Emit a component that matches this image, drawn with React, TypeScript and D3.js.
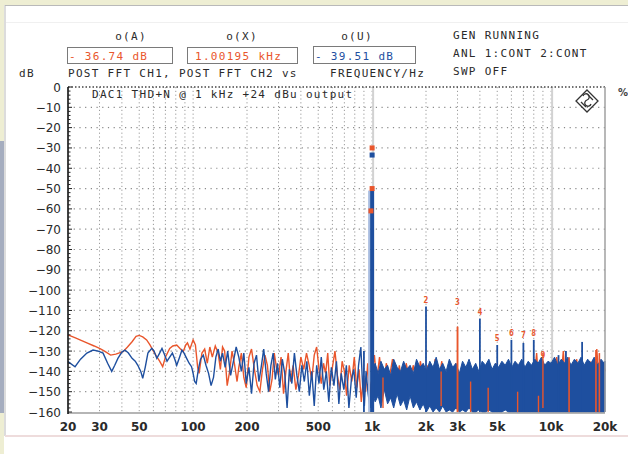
import React from "react";
import * as d3 from "d3";

const W = 628;
const H = 454;
const plot = { x0: 68, x1: 605, y0: 87, y1: 412 };

const RED = "#e9562c";
const BLUE = "#1e4f9f";
const INK = "#2a2a2a";
const MONO = "'DejaVu Sans Mono', monospace";
const SANS = "'DejaVu Sans', sans-serif";

// axis ticks
const dbTicks = [0, -10, -20, -30, -40, -50, -60, -70, -80, -90, -100, -110, -120, -130, -140, -150, -160];
const freqLabels: [number, string][] = [
  [20, "20"], [30, "30"], [50, "50"], [100, "100"], [200, "200"], [500, "500"],
  [1000, "1k"], [2000, "2k"], [3000, "3k"], [5000, "5k"], [10000, "10k"], [20000, "20k"],
];
const gridFreqs = [30, 40, 50, 60, 70, 80, 90, 100, 200, 300, 400, 500, 600, 700, 800, 900,
  1000, 2000, 3000, 4000, 5000, 6000, 7000, 8000, 9000, 10000];

// CH1 (red) noise floor below 1 kHz, [Hz, dB]
const redLow: [number, number][] = [
  [20, -122], [22, -123.5], [25.5, -126], [28, -127.5], [30, -128.7], [32, -130], [34.6, -132],
  [37, -131.5], [40.6, -130.3], [43, -128], [45.6, -125.4], [48, -122.8], [50, -122.3], [52.3, -123],
  [55, -124.5], [57.4, -127], [60, -130], [62.7, -132.8], [65, -135], [67.6, -137.7], [70, -133],
  [74, -128.7], [77, -127.5], [81, -127], [85, -129], [88, -130.3], [91, -127], [93, -126], [96, -129],
  [100, -124.5], [103, -127], [106, -138], [108, -141], [112, -131], [116, -129], [120, -136],
  [124, -128], [128, -133], [133, -127.5], [138, -131], [142, -139], [146, -128], [150, -130],
  [155, -147], [160, -140], [165, -130], [170, -136], [176, -145], [180, -138], [186, -131],
  [192, -143], [198, -148], [205, -133], [212, -129], [220, -139], [228, -147], [236, -150],
  [244, -139], [252, -132], [260, -137], [268, -150], [276, -144], [284, -131], [292, -138],
  [300, -142], [310, -133], [320, -151], [330, -140], [340, -131], [350, -145], [362, -137],
  [375, -149], [388, -142], [400, -133], [415, -139], [430, -131], [445, -137], [460, -144],
  [475, -132], [490, -128], [505, -139], [520, -146], [535, -136], [550, -141], [565, -131],
  [580, -147], [600, -138], [620, -130], [640, -142], [660, -149], [680, -135], [700, -140],
  [720, -152], [745, -137], [770, -145], [795, -133], [820, -148], [845, -139], [870, -155],
  [895, -142], [920, -150], [945, -136], [970, -153], [990, -145],
];

// CH2 (blue) noise floor below 1 kHz, [Hz, dB]
const blueLow: [number, number][] = [
  [20, -135.2], [21.9, -137.7], [23.5, -134], [25.5, -131], [27.6, -129.5], [29.5, -130],
  [31.4, -131], [33.3, -136], [35.1, -140], [36.5, -137], [38, -133.6], [40, -130.5], [41.6, -129.5],
  [43.5, -131], [45.6, -133.6], [47.5, -135], [49.1, -137], [51, -140], [52.3, -143.4], [54, -138],
  [55.9, -131], [58.8, -128.7], [60.5, -130], [62.7, -133.6], [65, -131], [67, -128.7], [69, -131.5],
  [71.5, -135], [74, -133], [76.6, -131], [79, -134], [81, -137], [84, -133], [86.6, -129.5],
  [89, -131], [92, -133.6], [95, -136], [98, -137.7], [100, -141], [102, -145], [104, -146],
  [107, -139], [110, -134], [114, -132], [118, -137], [122, -141], [126, -147], [130, -143],
  [134, -133], [138, -129], [142, -135], [146, -131], [151, -138], [156, -130], [162, -142],
  [168, -135], [174, -128], [180, -133], [186, -140], [192, -131], [198, -146], [205, -138],
  [212, -151], [219, -136], [226, -132], [233, -145], [240, -138], [248, -129], [256, -141],
  [264, -150], [272, -137], [280, -131], [288, -144], [296, -136], [305, -148], [315, -134],
  [325, -141], [335, -158], [345, -139], [356, -146], [368, -131], [380, -142], [392, -150],
  [405, -137], [418, -145], [432, -135], [446, -152], [460, -140], [475, -157], [490, -137],
  [505, -146], [520, -133], [537, -149], [555, -140], [573, -155], [592, -138], [612, -147],
  [632, -135], [652, -156], [672, -141], [695, -149], [718, -137], [742, -158], [766, -144],
  [790, -139], [815, -153], [840, -137], [865, -128], [885, -147], [905, -157], [925, -140],
  [950, -151], [975, -158], [990, -146],
];

// CH1 (red) noise above 1 kHz, [Hz, dB]
const redHigh: [number, number][] = [
  [1000, -140], [1030, -132], [1060, -145], [1100, -133], [1150, -150], [1200, -136], [1250, -143],
  [1300, -134], [1360, -148], [1420, -137], [1480, -152], [1550, -136], [1620, -145], [1700, -137],
  [1780, -150], [1860, -135], [1950, -147], [2050, -137], [2150, -152], [2250, -134], [2350, -146],
  [2450, -135], [2560, -151], [2680, -137], [2800, -155], [2930, -136], [3060, -148], [3200, -137],
  [3350, -150], [3500, -138], [3650, -154], [3800, -137], [3970, -149], [4150, -138], [4330, -157],
  [4520, -137], [4720, -152], [4930, -136], [5150, -156], [5380, -138], [5620, -150], [5870, -137],
  [6130, -158], [6400, -136], [6680, -152], [6980, -138], [7290, -155], [7610, -137], [7950, -150],
  [8300, -131], [8670, -156], [9050, -137], [9450, -152], [9870, -136], [10300, -156], [10750, -133],
  [11200, -150], [11700, -130], [12200, -155], [12700, -136], [13300, -152], [13900, -134],
  [14500, -156], [15100, -137], [15800, -150], [16500, -135], [17200, -154], [18000, -129],
  [18800, -156], [19600, -136], [20000, -140],
];

// CH2 (blue) dense noise band above 1 kHz, [Hz, top dB, bottom dB]
const blueBand: [number, number, number][] = [
  [1000, -138, -150], [1040, -136, -155], [1080, -141, -152], [1120, -135, -158], [1170, -139, -149],
  [1220, -137, -156], [1270, -142, -153], [1320, -134, -158], [1380, -138, -151], [1440, -140, -157],
  [1500, -135, -154], [1560, -139, -159], [1630, -137, -152], [1700, -141, -158], [1770, -134, -155],
  [1850, -138, -159], [1930, -136, -156], [2010, -140, -160], [2100, -135, -157], [2190, -138, -160],
  [2280, -133, -158], [2380, -139, -160], [2480, -136, -157], [2590, -140, -160], [2700, -134, -159],
  [2820, -138, -160], [2940, -136, -158], [3070, -141, -160], [3200, -135, -159], [3340, -138, -160],
  [3480, -134, -158], [3630, -139, -160], [3790, -136, -160], [3950, -140, -159], [4120, -135, -160],
  [4300, -137, -160], [4490, -134, -159], [4680, -139, -160], [4880, -136, -160], [5090, -138, -160],
  [5310, -135, -160], [5540, -137, -159], [5780, -134, -160], [6030, -138, -160], [6290, -135, -160],
  [6560, -137, -160], [6850, -134, -160], [7140, -138, -160], [7450, -135, -160], [7770, -137, -160],
  [8110, -134, -160], [8460, -136, -160], [8830, -133, -160], [9210, -137, -160], [9610, -135, -160],
  [10000, -136, -160], [10450, -133, -160], [10900, -137, -160], [11400, -134, -160], [11900, -136, -160],
  [12400, -133, -160], [12900, -137, -160], [13500, -134, -160], [14100, -136, -160], [14700, -133, -160],
  [15300, -137, -160], [16000, -134, -160], [16700, -136, -160], [17400, -133, -160], [18200, -137, -160],
  [19000, -134, -160], [19800, -136, -160], [20000, -135, -160],
];

// red streaks showing through the blue band, [Hz, top dB, bottom dB]
const redStreaks: [number, number, number][] = [
  [1150, -143, -158], [2430, -140, -157], [3000, -118, -160], [3550, -145, -160],
  [4450, -148, -160], [6500, -150, -160], [8500, -152, -160], [9000, -131, -158],
];

// spectral lines, [Hz, top dB]
const bluePeaks: [number, number][] = [
  [900, -130], [2000, -108], [4000, -114], [5000, -127], [6000, -124.5], [7000, -126],
  [8000, -124.5], [11000, -132], [12100, -130], [14900, -125.5],
];
const redPeaks: [number, number][] = [
  [3000, -118], [12600, -133], [17800, -129.5], [18600, -131],
];

// fundamental
const tone = { f: 1000, top: -51 };
const redMarks: [number, number][] = [[1000, -30], [1000, -50], [985, -61]];
const blueMarks: [number, number][] = [[1000, -33.5]];

// harmonic number labels, [order, Hz, dB]
const harmonicLabels: [number, number, number][] = [
  [2, 2000, -105], [3, 3000, -106], [4, 4000, -111], [5, 5000, -123.5],
  [6, 6000, -121], [7, 7000, -122], [8, 8000, -121], [9, 9000, -132],
];

const x = d3.scaleLog().domain([20, 20000]).range([plot.x0, plot.x1]);
const y = d3.scaleLinear().domain([0, -160]).range([plot.y0, plot.y1]);

const line = d3.line<[number, number]>().x((d) => x(d[0])).y((d) => y(d[1]));
const band = d3
  .area<[number, number, number]>()
  .x((d) => x(d[0]))
  .y0((d) => y(d[2]))
  .y1((d) => y(d[1]));

const minorDb = d3.range(0, -161, -2);

export default function App() {
  return (
    <div style={{ position: "fixed", left: 0, top: 0 }}>
      <svg width={W} height={H} style={{ display: "block" }}>
        {/* frame */}
        <rect width={W} height={H} fill="#ffffff" />
        <rect width={W} height={5} fill="#eeeed3" />
        <rect width={4} height={H} fill="#eeeed3" />
        <rect x={0} y={141} width={4} height={272} fill="#a5adbf" />
        <line x1={5} x2={W} y1={5.5} y2={5.5} stroke="#b9b9b9" />
        <line x1={5} x2={5} y1={5} y2={436} stroke="#b9b9b9" />
        <line x1={6} x2={W} y1={22.5} y2={22.5} stroke="#f0f0f0" />
        <line x1={5} x2={W} y1={436} y2={436} stroke="#eedcdc" strokeWidth={2} />

        {/* grid */}
        {dbTicks.slice(1, -1).map((d) => (
          <line key={"h" + d} x1={plot.x0} x2={plot.x1} y1={y(d)} y2={y(d)}
            stroke="#8a8a8a" strokeWidth={1.2} strokeDasharray="1.2 4.5" />
        ))}
        {gridFreqs.map((f) => (
          <line key={"v" + f} x1={x(f)} x2={x(f)} y1={plot.y0} y2={plot.y1}
            stroke="#9a9a9a" strokeWidth={1} strokeDasharray="1.2 2.6" />
        ))}
        {[1000, 10000].map((f) => (
          <line key={"g" + f} x1={x(f) + 1} x2={x(f) + 1} y1={plot.y0} y2={plot.y1}
            stroke="#d2d2d2" strokeWidth={2} />
        ))}

        {/* traces */}
        <path d={line(redLow) ?? ""} fill="none" stroke={RED} strokeWidth={1.4} />
        <path d={line(blueLow) ?? ""} fill="none" stroke={BLUE} strokeWidth={1.4} />
        <path d={line(redHigh) ?? ""} fill="none" stroke={RED} strokeWidth={1.4} />
        <path d={band(blueBand) ?? ""} fill={BLUE} stroke={BLUE} strokeWidth={1} />
        {redStreaks.map(([f, t, b]) => (
          <line key={"rs" + f} x1={x(f)} x2={x(f)} y1={y(t)} y2={y(b)} stroke={RED} strokeWidth={1.4} />
        ))}
        {bluePeaks.map(([f, t]) => (
          <line key={"bp" + f} x1={x(f)} x2={x(f)} y1={y(t)} y2={plot.y1} stroke={BLUE} strokeWidth={1.8} />
        ))}
        {redPeaks.map(([f, t]) => (
          <line key={"rp" + f} x1={x(f)} x2={x(f)} y1={y(t)} y2={plot.y1} stroke={RED} strokeWidth={1.6} />
        ))}
        <line x1={x(tone.f) - 3} x2={x(tone.f) - 3} y1={y(tone.top)} y2={plot.y1} stroke="#a9bde0" strokeWidth={2} />
        <line x1={x(tone.f)} x2={x(tone.f)} y1={y(tone.top)} y2={plot.y1} stroke={BLUE} strokeWidth={4} />
        {redMarks.map(([f, d], i) => (
          <rect key={"rm" + i} x={x(f) - 2.5} y={y(d) - 2.5} width={5} height={5} fill={RED} />
        ))}
        {blueMarks.map(([f, d], i) => (
          <rect key={"bm" + i} x={x(f) - 2.5} y={y(d) - 2.5} width={5} height={5} fill={BLUE} />
        ))}
        {harmonicLabels.map(([n, f, d]) => (
          <text key={"hl" + n} x={x(f)} y={y(d) + 3} textAnchor="middle" fontFamily={MONO}
            fontSize={8} fontWeight="bold" fill={RED}>{n}</text>
        ))}

        {/* axes */}
        <line x1={plot.x0} x2={plot.x1} y1={plot.y0} y2={plot.y0} stroke="#444" strokeWidth={1.3} strokeDasharray="1.5 2" />
        <line x1={plot.x0} x2={plot.x1} y1={plot.y1 + 1} y2={plot.y1 + 1} stroke="#9c9c9c" strokeWidth={1.5} />
        <line x1={plot.x1} x2={plot.x1} y1={plot.y0} y2={plot.y1} stroke="#a0a0a0" strokeWidth={1.5} />
        <line x1={plot.x0} x2={plot.x0} y1={plot.y0} y2={plot.y1 + 2} stroke="#111" strokeWidth={1.6} />
        {minorDb.map((d) => (
          <line key={"mt" + d} x1={plot.x0} x2={plot.x0 + (d % 10 === 0 ? 4 : 2.5)} y1={y(d)} y2={y(d)}
            stroke="#222" strokeWidth={1} />
        ))}
        {dbTicks.map((d) => (
          <text key={"yl" + d} x={61} y={y(d) + 4.5} textAnchor="end" fontFamily={SANS}
            fontSize={12} fill={INK}>{d === 0 ? "0" : "\u2212" + Math.abs(d)}</text>
        ))}
        {freqLabels.map(([f, s]) => (
          <text key={"xl" + f} x={x(f)} y={431} textAnchor="middle" fontFamily={SANS}
            fontSize={12} fontWeight="bold" fill={INK}>{s}</text>
        ))}

        {/* header */}
        <g fontFamily={MONO} fontSize={11} fill={INK} style={{ letterSpacing: "1.3px" }}>
          <text x={131} y={40} textAnchor="middle">o(A)</text>
          <text x={242} y={40} textAnchor="middle">o(X)</text>
          <text x={357} y={40} textAnchor="middle">o(U)</text>
          <text x={19} y={77}>dB</text>
          <text x={68} y={77}>POST FFT CH1, POST FFT CH2 vs</text>
          <text x={330} y={77}>FREQUENCY/Hz</text>
          <text x={453} y={39}>GEN RUNNING</text>
          <text x={453} y={57}>ANL 1:CONT 2:CONT</text>
          <text x={453} y={75}>SWP OFF</text>
          <text x={92} y={98}>DAC1 THD+N @ 1 kHz +24 dBu output</text>
        </g>
        <rect x={67.5} y={47.5} width={105} height={16} fill="#fff" stroke="#7a7a7a" />
        <rect x={187.5} y={47.5} width={110} height={16} fill="#fff" stroke="#7a7a7a" />
        <rect x={313.5} y={46.5} width={102} height={17} fill="#fff" stroke="#7a7a7a" />
        <g fontFamily={MONO} fontSize={11} style={{ letterSpacing: "1.3px" }}>
          <text x={69} y={60} fill={RED}>- 36.74 dB</text>
          <text x={195} y={60} fill={RED}>1.00195 kHz</text>
          <text x={315} y={60} fill={BLUE}>- 39.51 dB</text>
        </g>

        {/* logo */}
        <g transform="translate(587,101)" fill="none" stroke="#333" strokeWidth={1.3}>
          <path d="M0,-11 L11,0 L0,11 L-11,0 Z" />
          <path d="M-4,-5 a3.2,3.2 0 1,1 4,4 a3.2,3.2 0 1,0 4,4" />
          <path d="M-6,1 L-1,6 M1,-6 L6,-1" />
        </g>
        <text x={618} y={96} fontFamily={SANS} fontSize={10} fontWeight="bold" fill="#444">%</text>
      </svg>
    </div>
  );
}
